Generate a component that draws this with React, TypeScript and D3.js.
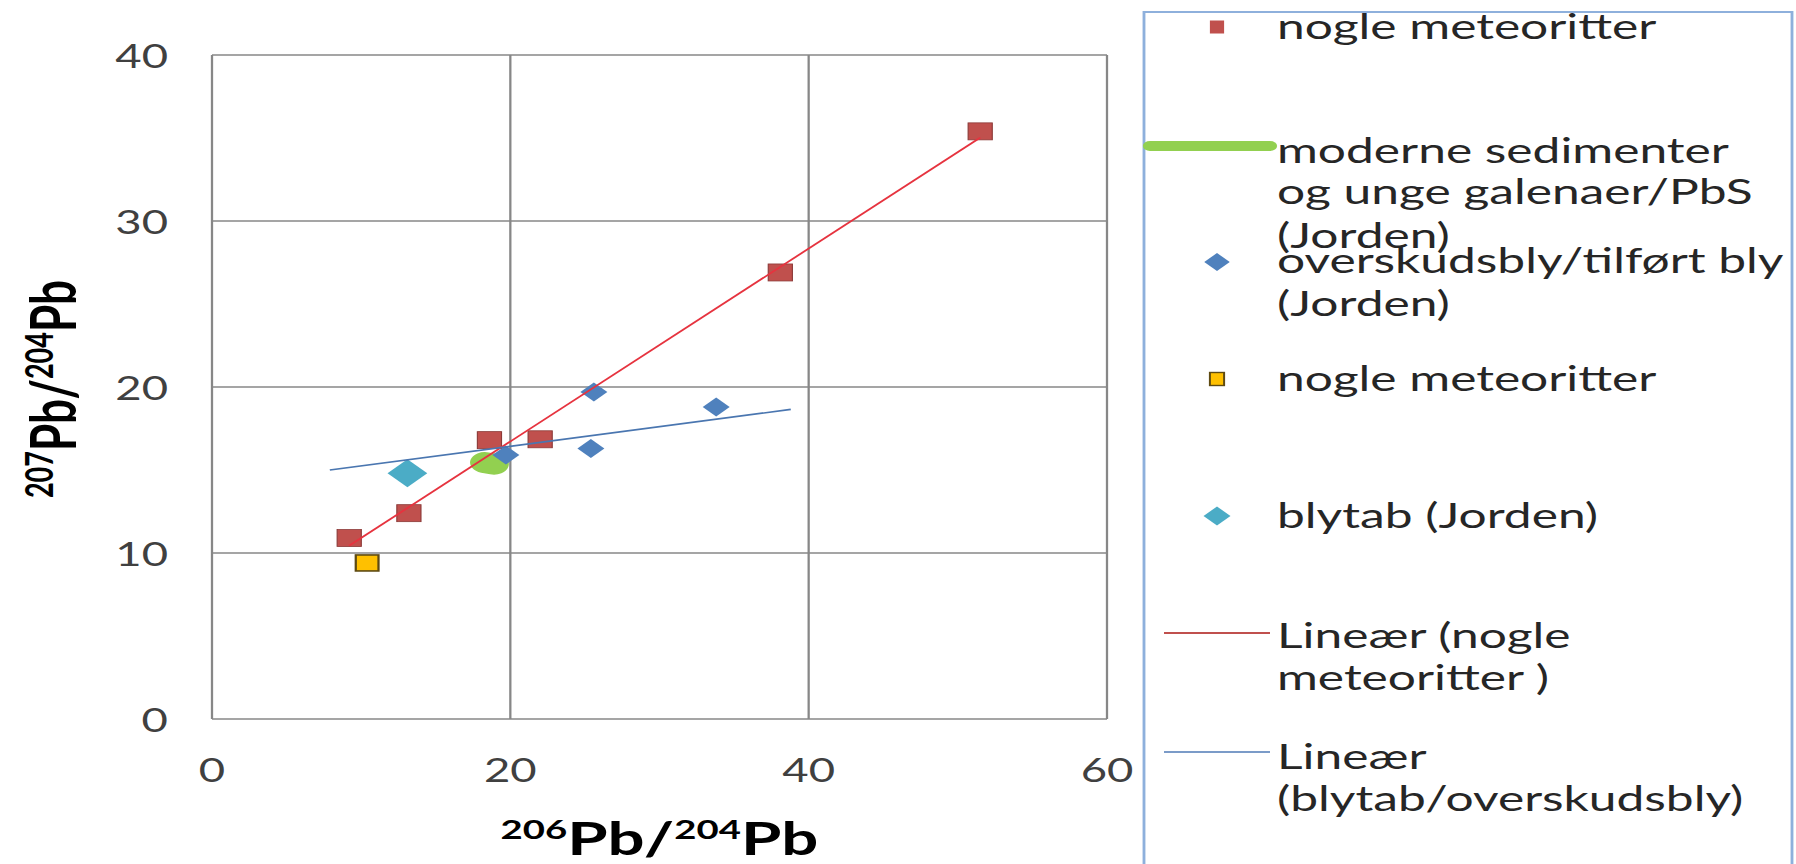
import React from "react";
import * as d3 from "d3";

// nogle meteoritter (red squares)
const redX = [9.2, 13.2, 18.6, 22.0, 38.1, 51.5];
const redY = [10.9, 12.4, 16.8, 16.85, 26.9, 35.4];
// moderne sedimenter og unge galenaer/PbS (green, thick line)
const greenX = [18.3, 18.9];
const greenY = [15.45, 15.35];
// overskudsbly/tilført bly (blue diamonds)
const blueX = [19.7, 25.4, 25.6, 33.8];
const blueY = [15.9, 16.3, 19.7, 18.8];
// nogle meteoritter (yellow square)
const yellowX = [10.4];
const yellowY = [9.4];
// blytab (cyan diamond)
const cyanX = [13.1];
const cyanY = [14.8];
// Lineær (blytab/overskudsbly)
const blueTrendX = [7.9, 38.8];
const blueTrendY = [15.0, 18.65];

const xTicks = [0, 20, 40, 60];
const yTicks = [0, 10, 20, 30, 40];

const W = 1796;
const H = 864;
const SX = 1.42; // the source picture is stretched sideways
const ix = (px: number) => px / SX;

const x = d3.scaleLinear().domain([0, 60]).range([ix(212), ix(1107)]);
const y = d3.scaleLinear().domain([0, 40]).range([719, 55]);

const line = d3
  .line<[number, number]>()
  .x((d) => x(d[0]))
  .y((d) => y(d[1]));

const diamond = (r: number) => `M0,${-r}L${r},0L0,${r}L${-r},0Z`;

// linear trend for the red series
const mx = d3.mean(redX) as number;
const my = d3.mean(redY) as number;
const slope =
  d3.sum(redX.map((v, i) => (v - mx) * (redY[i] - my))) /
  d3.sum(redX.map((v) => (v - mx) ** 2));
const icpt = my - slope * mx;
const redTrend: [number, number][] = (d3.extent(redX) as [number, number]).map(
  (v) => [v, icpt + slope * v] as [number, number]
);

const zip = (a: number[], b: number[]) =>
  a.map((v, i) => [v, b[i]] as [number, number]);

const FONT = "Lato, 'Open Sans', sans-serif";
const RED = "#c0504d";
const BLUE = "#4f81bd";
const CYAN = "#4bacc6";
const YELLOW = "#ffc000";
const GREEN = "#92d050";
const GRID = "#878787";

const legendX = ix(1217);
const legendTextX = ix(1277);

const legendText: [number, string][] = [
  [27, "nogle meteoritter"],
  [151, "moderne sedimenter"],
  [192, "og unge galenaer/PbS"],
  [236, "(Jorden)"],
  [261, "overskudsbly/tilført bly"],
  [304, "(Jorden)"],
  [379, "nogle meteoritter"],
  [516, "blytab (Jorden)"],
  [636, "Lineær (nogle"],
  [678, "meteoritter )"],
  [757, "Lineær"],
  [799, "(blytab/overskudsbly)"],
];

const Iso = ({ a, b }: { a: string; b: string }) => (
  <>
    <tspan fontSize={27} dy={-16}>{a}</tspan>
    <tspan dy={16}>Pb/</tspan>
    <tspan fontSize={27} dy={-16}>{b}</tspan>
    <tspan dy={16}>Pb</tspan>
  </>
);

export default function App() {
  return (
    <svg
      width={W}
      height={H}
      viewBox={`0 0 ${W / SX} ${H}`}
      preserveAspectRatio="none"
      style={{ position: "absolute", left: 0, top: 0, display: "block", background: "#fff" }}
    >
      {/* grid */}
      <g stroke={GRID} strokeWidth={1.6}>
        {yTicks.map((t) => (
          <line key={"gy" + t} x1={x(0)} x2={x(60)} y1={y(t)} y2={y(t)} />
        ))}
        {xTicks.map((t) => (
          <line key={"gx" + t} x1={x(t)} x2={x(t)} y1={y(0)} y2={y(40)} />
        ))}
      </g>

      {/* tick labels */}
      <g fontFamily={FONT} fontSize={32} fill="#404040">
        {yTicks.map((t) => (
          <text key={"ty" + t} x={ix(168)} y={y(t) + 2} textAnchor="end" dy="0.35em">
            {t}
          </text>
        ))}
        {xTicks.map((t) => (
          <text key={"tx" + t} x={x(t)} y={771} textAnchor="middle" dy="0.35em">
            {t}
          </text>
        ))}
      </g>

      {/* axis titles */}
      <text
        x={(x(0) + x(60)) / 2}
        y={855}
        textAnchor="middle"
        fontFamily={FONT}
        fontWeight="bold"
        fontSize={46}
        fill="#000"
      >
        <Iso a="206" b="204" />
      </text>
      <text
        transform={`translate(${ix(76)},389) rotate(-90)`}
        textAnchor="middle"
        fontFamily={FONT}
        fontWeight="bold"
        fontSize={44}
        fill="#000"
      >
        <Iso a="207" b="204" />
      </text>

      {/* green series */}
      <path
        d={line(zip(greenX, greenY)) as string}
        fill="none"
        stroke={GREEN}
        strokeWidth={21}
        strokeLinecap="round"
        strokeLinejoin="round"
      />

      {/* red squares */}
      {zip(redX, redY).map(([a, b], i) => (
        <rect
          key={"r" + i}
          x={x(a) - 8.5}
          y={y(b) - 8.5}
          width={17}
          height={17}
          fill={RED}
          stroke="#8c3a38"
          strokeWidth={0.8}
        />
      ))}

      {/* blue diamonds */}
      {zip(blueX, blueY).map(([a, b], i) => (
        <path key={"b" + i} d={diamond(9.5)} transform={`translate(${x(a)},${y(b)})`} fill={BLUE} />
      ))}

      {/* yellow square */}
      {zip(yellowX, yellowY).map(([a, b], i) => (
        <rect
          key={"yl" + i}
          x={x(a) - 8}
          y={y(b) - 8}
          width={16}
          height={16}
          fill={YELLOW}
          stroke="#5e4a12"
          strokeWidth={1.6}
        />
      ))}

      {/* cyan diamond */}
      {zip(cyanX, cyanY).map(([a, b], i) => (
        <path key={"c" + i} d={diamond(14)} transform={`translate(${x(a)},${y(b)})`} fill={CYAN} />
      ))}

      {/* trend lines */}
      <path d={line(redTrend) as string} fill="none" stroke="#e6333f" strokeWidth={1.6} />
      <path
        d={line(zip(blueTrendX, blueTrendY)) as string}
        fill="none"
        stroke="#4a76b0"
        strokeWidth={1.6}
      />

      {/* legend */}
      <rect
        x={ix(1144)}
        y={12}
        width={ix(1792) - ix(1144)}
        height={900}
        fill="#fff"
        stroke="#8eb0dc"
        strokeWidth={2}
      />
      <rect x={legendX - 5} y={27 - 6.5} width={10} height={13} fill={RED} />
      <line x1={ix(1150)} x2={ix(1270)} y1={146} y2={146} stroke={GREEN} strokeWidth={10} strokeLinecap="round" />
      <path d={diamond(9)} transform={`translate(${legendX},262)`} fill={BLUE} />
      <rect x={legendX - 5} y={379 - 6.5} width={10} height={13} fill={YELLOW} stroke="#5e4a12" strokeWidth={1.4} />
      <path d={diamond(9.5)} transform={`translate(${legendX},516)`} fill={CYAN} />
      <line x1={ix(1164)} x2={ix(1270)} y1={633} y2={633} stroke="#c0504d" strokeWidth={2} />
      <line x1={ix(1164)} x2={ix(1270)} y1={752} y2={752} stroke="#7b9bc8" strokeWidth={2} />
      <g fontFamily={FONT} fontSize={35} fill="#262626">
        {legendText.map(([yy, s], i) => (
          <text key={"lt" + i} x={legendTextX} y={yy} dy="0.35em">
            {s}
          </text>
        ))}
      </g>
    </svg>
  );
}
